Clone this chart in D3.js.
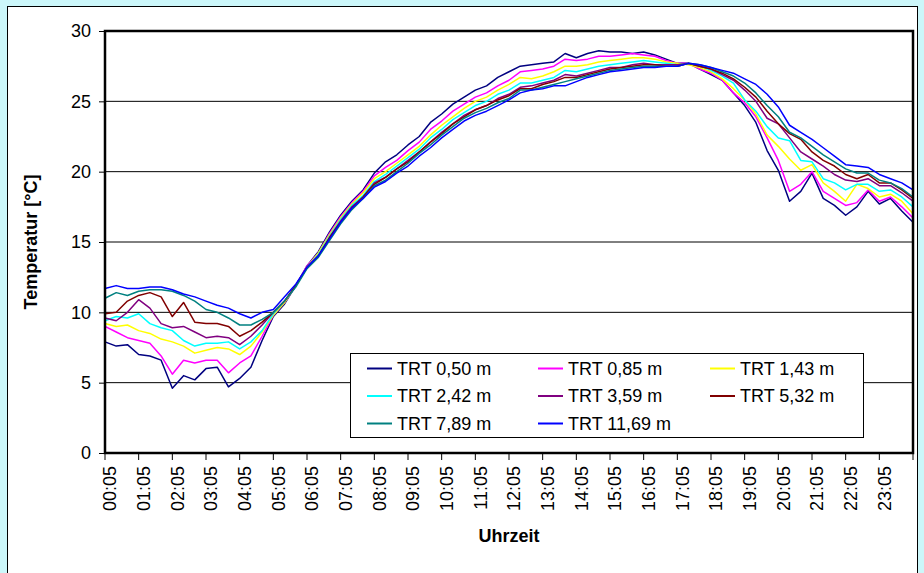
<!DOCTYPE html>
<html>
<head>
<meta charset="utf-8">
<script src="https://cdn.jsdelivr.net/npm/d3@7"></script>
<style>
  html, body { margin: 0; padding: 0; background: #ccf7fa; }
  svg { display: block; font-family: Arial, "Liberation Sans", sans-serif; }
</style>
</head>
<body>
<div id="chart"></div>
<script>
// sample times, minutes after midnight (00:05 ... 24:05)
const sampleMinutes = [5, 25, 45, 65, 85, 105, 125, 145, 165, 185, 205, 225, 245, 265, 285, 305,
  325, 345, 365, 385, 405, 425, 445, 465, 485, 505, 525, 545, 565, 585, 605, 625, 645, 665, 685,
  705, 725, 745, 765, 785, 805, 825, 845, 865, 885, 905, 925, 945, 965, 985, 1005, 1025, 1045,
  1065, 1085, 1105, 1125, 1145, 1165, 1185, 1205, 1225, 1245, 1265, 1285, 1305, 1325, 1345,
  1365, 1385, 1405, 1425, 1445];

const tickLabels = ["00:05", "01:05", "02:05", "03:05", "04:05", "05:05", "06:05", "07:05",
  "08:05", "09:05", "10:05", "11:05", "12:05", "13:05", "14:05", "15:05", "16:05", "17:05",
  "18:05", "19:05", "20:05", "21:05", "22:05", "23:05"];

const yTicks = [0, 5, 10, 15, 20, 25, 30];

const seriesNames = ["TRT 0,50 m", "TRT 0,85 m", "TRT 1,43 m", "TRT 2,42 m",
  "TRT 3,59 m", "TRT 5,32 m", "TRT 7,89 m", "TRT 11,69 m"];
const seriesColors = ["#000080", "#ff00ff", "#ffff00", "#00ffff",
  "#800080", "#800000", "#008080", "#0000ff"];

const trt050 = [7.9, 7.6, 7.7, 7.0, 6.9, 6.6, 4.6, 5.5, 5.2, 6.0, 6.1, 4.7, 5.3, 6.1, 8.0, 9.7,
  10.6, 11.9, 13.3, 14.3, 15.7, 16.9, 17.9, 18.7,
  19.9, 20.7, 21.2, 21.9, 22.5, 23.5, 24.1, 24.8, 25.3, 25.8, 26.1, 26.7, 27.1, 27.5,
  27.6, 27.7, 27.8, 28.4, 28.1, 28.4, 28.6, 28.5, 28.5, 28.4, 28.5, 28.3, 28.0, 27.7,
  27.7, 27.3, 26.9, 26.5, 25.6, 24.7, 23.5, 21.5, 20.1, 17.9, 18.6, 19.9, 18.1, 17.6, 16.9,
  17.5, 18.6, 17.7, 18.1, 17.2, 16.4];
const trt085 = [9.0, 8.6, 8.2, 8.0, 7.8, 6.9, 5.6, 6.6, 6.4, 6.6, 6.6, 5.7, 6.4, 6.9, 8.3, 9.8,
  10.7, 11.9, 13.3, 14.2, 15.6, 16.8, 17.8, 18.6,
  19.7, 20.3, 20.8, 21.5, 22.1, 23.0, 23.6, 24.3, 24.8, 25.3, 25.6, 26.1, 26.5, 27.1,
  27.2, 27.3, 27.5, 28.0, 27.9, 28.0, 28.2, 28.2, 28.3, 28.4, 28.3, 28.2, 27.9, 27.7,
  27.7, 27.3, 27.0, 26.5, 25.6, 24.9, 23.9, 22.4, 20.8, 18.6, 19.1, 20.0, 18.6, 18.1, 17.6,
  17.8, 18.7, 17.9, 18.2, 17.5, 16.7];
const trt143 = [9.2, 9.0, 9.1, 8.7, 8.5, 8.1, 7.9, 7.6, 7.1, 7.3, 7.5, 7.4, 7.0, 7.6, 8.6, 9.8,
  10.7, 11.9, 13.2, 14.2, 15.5, 16.7, 17.7, 18.5,
  19.5, 20.0, 20.6, 21.2, 21.8, 22.6, 23.3, 23.9, 24.5, 25.0, 25.3, 25.8, 26.2, 26.7,
  26.6, 26.8, 27.1, 27.5, 27.5, 27.6, 27.8, 27.9, 28.0, 28.1, 28.1, 28.0, 27.8, 27.7,
  27.6, 27.4, 27.1, 26.6, 25.9, 25.1, 24.1, 22.6, 21.8, 20.9, 20.1, 20.5, 19.2, 18.6, 17.9,
  19.1, 18.8, 18.2, 18.4, 17.9, 17.0];
const trt242 = [9.4, 9.7, 9.6, 9.9, 9.2, 8.9, 8.7, 8.0, 7.6, 7.8, 7.8, 7.9, 7.4, 7.9, 8.7, 9.9,
  10.8, 11.9, 13.2, 14.1, 15.4, 16.6, 17.6, 18.3,
  19.3, 19.8, 20.4, 21.0, 21.6, 22.4, 23.0, 23.7, 24.2, 24.7, 25.0, 25.5, 25.8, 26.3,
  26.3, 26.5, 26.7, 27.2, 27.1, 27.3, 27.5, 27.6, 27.7, 27.8, 27.9, 27.8, 27.7, 27.6,
  27.7, 27.5, 27.2, 26.8, 26.3, 25.1, 24.3, 23.2, 22.4, 22.2, 20.8, 20.7, 19.5, 19.2, 18.7,
  19.1, 19.1, 18.6, 18.7, 18.2, 17.5];
const trt359 = [9.6, 9.4, 10.0, 10.9, 10.3, 9.2, 8.9, 9.0, 8.6, 8.2, 8.3, 8.2, 7.7, 8.3, 9.1, 10.0,
  10.8, 11.9, 13.2, 14.0, 15.3, 16.5, 17.5, 18.2,
  19.2, 19.6, 20.2, 20.8, 21.4, 22.1, 22.8, 23.4, 24.0, 24.4, 24.7, 25.2, 25.5, 26.0,
  26.1, 26.3, 26.5, 26.9, 26.8, 27.0, 27.2, 27.4, 27.4, 27.6, 27.7, 27.6, 27.6, 27.6,
  27.7, 27.5, 27.3, 26.9, 26.5, 25.8, 25.0, 23.8, 23.4, 22.4, 21.4, 20.9, 20.4, 19.8, 19.4,
  19.3, 19.5, 19.0, 19.0, 18.5, 17.9];
const trt532 = [9.9, 10.0, 10.8, 11.2, 11.4, 11.1, 9.7, 10.7, 9.3, 9.2, 9.2, 9.0, 8.3, 8.7, 9.3, 10.0,
  10.8, 11.9, 13.2, 14.0, 15.3, 16.4, 17.4, 18.2,
  19.1, 19.6, 20.2, 20.7, 21.4, 22.1, 22.7, 23.4, 23.9, 24.4, 24.7, 25.1, 25.4, 25.9,
  25.9, 26.2, 26.4, 26.7, 26.7, 26.9, 27.1, 27.3, 27.4, 27.5, 27.6, 27.6, 27.5, 27.5,
  27.7, 27.5, 27.3, 27.0, 26.6, 26.0, 25.3, 24.3, 23.4, 22.7, 22.3, 21.4, 20.8, 20.4, 19.8,
  19.5, 19.8, 19.2, 19.2, 18.7, 18.1];
const trt789 = [11.0, 11.4, 11.2, 11.5, 11.6, 11.6, 11.5, 11.2, 10.8, 10.2, 10.0, 9.6, 9.1, 9.1, 9.5, 10.0,
  10.8, 11.8, 13.1, 13.9, 15.1, 16.3, 17.3, 18.1,
  19.0, 19.4, 20.0, 20.6, 21.3, 21.9, 22.6, 23.2, 23.8, 24.2, 24.5, 24.9, 25.2, 25.8,
  25.8, 26.0, 26.2, 26.4, 26.6, 26.8, 27.0, 27.2, 27.3, 27.4, 27.5, 27.5, 27.5, 27.5,
  27.7, 27.6, 27.4, 27.1, 26.8, 26.3, 25.6, 24.7, 23.9, 22.8, 22.4, 21.8, 21.2, 20.7, 20.2,
  19.9, 19.9, 19.4, 19.2, 18.8, 18.2];
const trt1169 = [11.7, 11.9, 11.7, 11.7, 11.8, 11.8, 11.6, 11.3, 11.1, 10.8, 10.5, 10.3, 9.9, 9.6, 10.0, 10.2,
  11.1, 12.0, 13.2, 14.0, 15.2, 16.4, 17.4, 18.1,
  18.9, 19.3, 19.9, 20.4, 21.1, 21.7, 22.4, 23.0, 23.6, 24.0, 24.3, 24.7, 25.1, 25.6,
  25.8, 25.9, 26.1, 26.1, 26.4, 26.7, 26.9, 27.1, 27.2, 27.3, 27.4, 27.4, 27.5, 27.5,
  27.7, 27.6, 27.4, 27.2, 27.0, 26.6, 26.2, 25.5, 24.6, 23.3, 22.8, 22.3, 21.7, 21.1, 20.5,
  20.4, 20.3, 19.8, 19.5, 19.2, 18.7];

const seriesValues = [trt050, trt085, trt143, trt242, trt359, trt532, trt789, trt1169];

function toMinutes(label) {
  const parts = label.split(":");
  return (+parts[0]) * 60 + (+parts[1]);
}

function render(node, params) {
  const width = params["width"];
  const height = params["height"];
  const plot = {left: 105, right: 913, top: 31, bottom: 453};

  const svg = (d3.select(node).append("svg")
               .attr("width", width)
               .attr("height", height));

  // chart area frame
  svg.append("rect")
    .attr("x", 7.5).attr("y", 6.5)
    .attr("width", 910).attr("height", 580)
    .attr("fill", "#fff")
    .attr("stroke", "#000")
    .attr("stroke-width", 1);

  const x = (d3.scaleLinear()
             .domain([sampleMinutes[0], sampleMinutes[sampleMinutes.length - 1]])
             .range([plot.left, plot.right]));

  const y = (d3.scaleLinear()
             .domain([0, 30])
             .range([plot.bottom, plot.top]));

  // gridlines
  svg.append("g")
    .selectAll("line")
    .data(yTicks.filter((d) => d > 0 && d < 30))
    .join("line")
    .attr("x1", plot.left).attr("x2", plot.right)
    .attr("y1", (d) => y(d)).attr("y2", (d) => y(d))
    .attr("stroke", "#000")
    .attr("stroke-width", 1);

  // y axis ticks + labels
  const yAxis = svg.append("g")
    .attr("transform", `translate(${plot.left},0)`)
    .call(d3.axisLeft(y).tickValues(yTicks).tickSize(6).tickPadding(8));
  yAxis.select(".domain").remove();
  yAxis.selectAll(".tick line").attr("stroke", "#000");
  yAxis.selectAll(".tick text")
    .attr("fill", "#000")
    .style("font-size", "18px")
    .style("font-family", "Arial, 'Liberation Sans', sans-serif");

  // x axis ticks at each hour
  const hourTicks = tickLabels.map(toMinutes).concat([sampleMinutes[sampleMinutes.length - 1]]);
  svg.append("g")
    .selectAll("line")
    .data(hourTicks)
    .join("line")
    .attr("x1", (d) => x(d)).attr("x2", (d) => x(d))
    .attr("y1", plot.bottom).attr("y2", plot.bottom + 7)
    .attr("stroke", "#000")
    .attr("stroke-width", 1);

  svg.append("g")
    .selectAll("text")
    .data(tickLabels)
    .join("text")
    .attr("transform", (d) => `translate(${x(toMinutes(d)) + 5},466) rotate(-90)`)
    .attr("text-anchor", "end")
    .attr("dy", "0.35em")
    .style("font-size", "18px")
    .text((d) => d);

  // series
  const line = d3.line()
    .x((d, i) => x(sampleMinutes[i]))
    .y((d) => y(d));

  svg.append("g")
    .selectAll("path")
    .data(seriesValues)
    .join("path")
    .attr("d", (d) => line(d))
    .attr("fill", "none")
    .attr("stroke", (d, i) => seriesColors[i])
    .attr("stroke-width", 1.5)
    .attr("stroke-linejoin", "round");

  // plot frame (thick)
  svg.append("rect")
    .attr("x", plot.left).attr("y", plot.top)
    .attr("width", plot.right - plot.left)
    .attr("height", plot.bottom - plot.top)
    .attr("fill", "none")
    .attr("stroke", "#000")
    .attr("stroke-width", 2.5);

  // axis titles
  svg.append("text")
    .attr("transform", `translate(37,${(plot.top + plot.bottom) / 2}) rotate(-90)`)
    .attr("text-anchor", "middle")
    .style("font-size", "18px")
    .style("font-weight", "bold")
    .text("Temperatur [°C]");

  svg.append("text")
    .attr("x", (plot.left + plot.right) / 2)
    .attr("y", 542)
    .attr("text-anchor", "middle")
    .style("font-size", "18px")
    .style("font-weight", "bold")
    .text("Uhrzeit");

  // legend
  const legend = svg.append("g").attr("transform", "translate(350,353)");
  legend.append("rect")
    .attr("x", 0.5).attr("y", 0.5)
    .attr("width", 513).attr("height", 84)
    .attr("fill", "#fff")
    .attr("stroke", "#000")
    .attr("stroke-width", 1);

  const colX = [17, 188, 360];
  const item = legend.selectAll("g.item")
    .data(seriesNames)
    .join("g")
    .attr("class", "item")
    .attr("transform", (d, i) => `translate(${colX[i % 3]},${15.5 + 27.5 * Math.floor(i / 3)})`);

  item.append("line")
    .attr("x1", 0).attr("x2", 25)
    .attr("y1", 0).attr("y2", 0)
    .attr("stroke", (d, i) => seriesColors[i])
    .attr("stroke-width", 2);

  item.append("text")
    .attr("x", 30)
    .attr("dy", "0.35em")
    .style("font-size", "18px")
    .text((d) => d);

  return svg.node();
}

render(document.getElementById("chart"), {width: 924, height: 573});
</script>
</body>
</html>
